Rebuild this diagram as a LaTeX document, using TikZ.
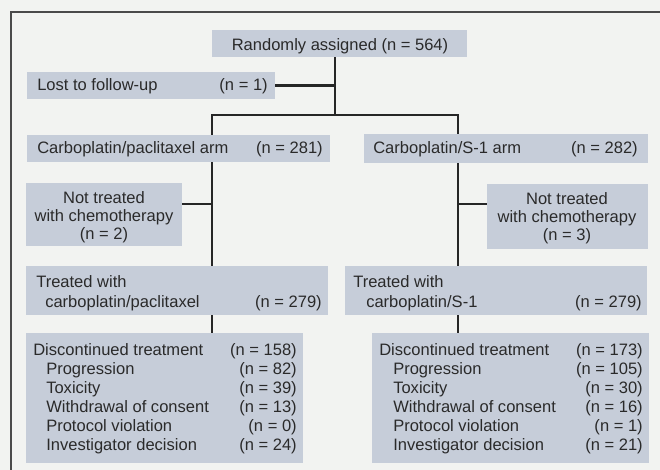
\documentclass[tikz,border=0pt]{standalone}
\usepackage{fontspec}
\setmainfont{Liberation Sans}
\usetikzlibrary{fit}
\definecolor{bgc}{HTML}{F2F3F1}
\definecolor{boxc}{HTML}{C6CDD9}
\definecolor{txtc}{HTML}{2A2A2A}
\definecolor{linec}{HTML}{262626}
\definecolor{framec}{HTML}{4A4A4A}
\begin{document}
\begin{tikzpicture}[x=0.75pt,y=-0.75pt,
  box/.style={fill=boxc, inner sep=0pt, draw=none},
  txt/.style={text=txtc, font=\fontsize{12.4}{14}\selectfont, inner sep=0pt},
  link/.style={draw=linec, line width=2pt}]
\fill[bgc] (0,0) rectangle (660,470);
\useasboundingbox (0,0) rectangle (660,470);
\draw[framec, line width=0.8pt] (11,470) -- (11,12) -- (660,12);

% boxes
\node[box, fit={(212,30) (467,57)}] (rand) {};
\node[box, fit={(27,72) (275,99)}] (lost) {};
\node[box, fit={(27,135) (330,162)}] (armL) {};
\node[box, fit={(364,134) (648,163)}] (armR) {};
\node[box, fit={(26,183) (182,246)}] (ntL) {};
\node[box, fit={(487,184) (648,249)}] (ntR) {};
\node[box, fit={(26,266) (328,315)}] (trL) {};
\node[box, fit={(345,266) (647,315)}] (trR) {};
\node[box, fit={(26,333) (303,463)}] (dL) {};
\node[box, fit={(372,333) (649,463)}] (dR) {};

% texts
\node[txt, anchor=base] (t1) at (340,50.5) {Randomly assigned (n = 564)};
\node[txt, anchor=base west] (t2) at (37,91) {Lost to follow-up};
\node[txt, anchor=base east] (t3) at (268,91) {(n = 1)};
\node[txt, anchor=base west] (t4) at (37,154) {Carboplatin/paclitaxel arm};
\node[txt, anchor=base east] (t5) at (323,154) {(n = 281)};
\node[txt, anchor=base west] (t6) at (373,154) {Carboplatin/S-1 arm};
\node[txt, anchor=base east] (t7) at (638,154) {(n = 282)};

\node[txt, anchor=base] (t8) at (104,204) {Not treated};
\node[txt, anchor=base] (t9) at (104,222) {with chemotherapy};
\node[txt, anchor=base] (t10) at (104,240) {(n = 2)};
\node[txt, anchor=base] (t11) at (567,205) {Not treated};
\node[txt, anchor=base] (t12) at (567,223) {with chemotherapy};
\node[txt, anchor=base] (t13) at (567,241) {(n = 3)};

\node[txt, anchor=base west] (t14) at (36,287) {Treated with};
\node[txt, anchor=base west] (t15) at (45,307) {carboplatin/paclitaxel};
\node[txt, anchor=base east] (t16) at (322,307) {(n = 279)};
\node[txt, anchor=base west] (t17) at (353,287) {Treated with};
\node[txt, anchor=base west] (t18) at (366,307) {carboplatin/S-1};
\node[txt, anchor=base east] (t19) at (642,307) {(n = 279)};

% discontinued left
\node[txt, anchor=base west] (a1) at (33,355) {Discontinued treatment};
\node[txt, anchor=base west] (a2) at (46,374) {Progression};
\node[txt, anchor=base west] (a3) at (46,393) {Toxicity};
\node[txt, anchor=base west] (a4) at (46,412) {Withdrawal of consent};
\node[txt, anchor=base west] (a5) at (46,431) {Protocol violation};
\node[txt, anchor=base west] (a6) at (46,450) {Investigator decision};
\node[txt, anchor=base east] (b1) at (297,355) {(n = 158)};
\node[txt, anchor=base east] (b2) at (297,374) {(n = 82)};
\node[txt, anchor=base east] (b3) at (297,393) {(n = 39)};
\node[txt, anchor=base east] (b4) at (297,412) {(n = 13)};
\node[txt, anchor=base east] (b5) at (297,431) {(n = 0)};
\node[txt, anchor=base east] (b6) at (297,450) {(n = 24)};

% discontinued right
\node[txt, anchor=base west] (c1) at (379,355) {Discontinued treatment};
\node[txt, anchor=base west] (c2) at (393,374) {Progression};
\node[txt, anchor=base west] (c3) at (393,393) {Toxicity};
\node[txt, anchor=base west] (c4) at (393,412) {Withdrawal of consent};
\node[txt, anchor=base west] (c5) at (393,431) {Protocol violation};
\node[txt, anchor=base west] (c6) at (393,450) {Investigator decision};
\node[txt, anchor=base east] (d1) at (643,355) {(n = 173)};
\node[txt, anchor=base east] (d2) at (643,374) {(n = 105)};
\node[txt, anchor=base east] (d3) at (643,393) {(n = 30)};
\node[txt, anchor=base east] (d4) at (643,412) {(n = 16)};
\node[txt, anchor=base east] (d5) at (643,431) {(n = 1)};
\node[txt, anchor=base east] (d6) at (643,450) {(n = 21)};

% connectors
\coordinate (j0) at (335,115);
\coordinate (jl) at (212,115);
\coordinate (jr) at (458,115);
\coordinate (hL) at (212,204);
\coordinate (hR) at (458,204);
\draw[link] (rand.south -| j0) -- (j0);
\draw[link] (lost.east) -- (lost.east -| j0);
\draw[link] (armL.north -| jl) -- (jl) -- (jr) -- (armR.north -| jr);
\draw[link] (armL.south -| jl) -- (trL.north -| jl);
\draw[link] (hL -| ntL.east) -- (hL);
\draw[link] (armR.south -| jr) -- (trR.north -| jr);
\draw[link] (hR -| ntR.west) -- (hR);
\draw[link] (trL.south -| jl) -- (dL.north -| jl);
\draw[link] (trR.south -| jr) -- (dR.north -| jr);
\end{tikzpicture}
\end{document}
